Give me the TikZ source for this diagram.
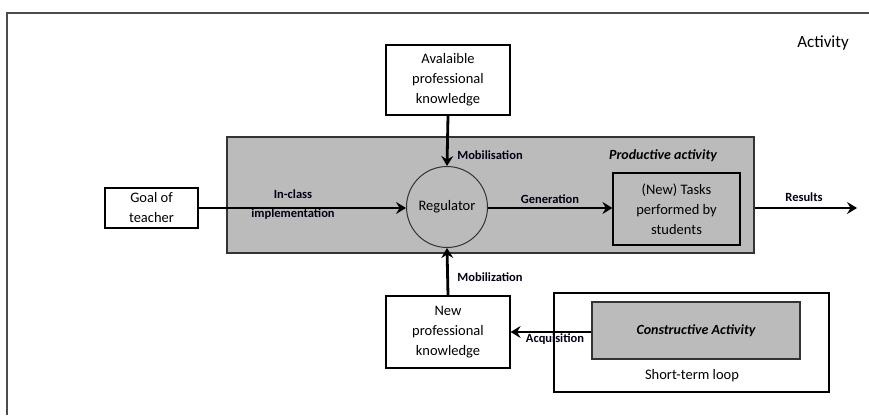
\documentclass[tikz,border=0pt]{standalone}
\usepackage{fontspec}
\setmainfont{Carlito}
\usetikzlibrary{arrows.meta}
\tikzset{
  box/.style={draw=black, line width=1.2pt, fill=white, align=center, inner sep=0pt, font=\fontsize{14.5}{20}\selectfont},
  graybox/.style={draw=black!80, line width=1.2pt, fill=gray!50!white!98!black, inner sep=0pt},
  lbl/.style={font=\fontsize{12.5}{19}\selectfont\bfseries, text=black!92!blue, align=center, inner sep=0pt},
  flow/.style={line width=2.8pt, -{Stealth[length=10pt,width=12pt,inset=3.5pt]}},
  frame/.style={draw=black!70, line width=1.8pt}
}
\begin{document}
\begin{tikzpicture}[x=1pt,y=-1pt]
\useasboundingbox (0,0) rectangle (869,417);
\fill[white] (0,0) rectangle (869,417);
% outer frame (only top and left visible)
\coordinate (fa) at (7,415);
\coordinate (fb) at (7,13);
\coordinate (fc) at (869,13);
\draw[frame] (fa) -- (fb) -- (fc);
\node[font=\fontsize{17}{20}\selectfont, inner sep=0pt] (activity) at (823,43) {Activity};

% productive activity gray area
\node[graybox, minimum width=527pt, minimum height=116pt] (prod) at (490.5,195) {};
\node[font=\fontsize{14}{16}\selectfont\bfseries\itshape, inner sep=0pt] (prodlbl) at (663,156) {Productive activity};

% nodes
\node[box, minimum width=124pt, minimum height=70pt] (avail) at (448,80) {Avalaible\\professional\\knowledge};
\node[box, minimum width=93pt, minimum height=40pt] (goal) at (151.5,208) {Goal of\\teacher};
\node[circle, draw=black!80, line width=1pt, fill=gray!50!white!98!black, minimum size=81pt, inner sep=0pt, font=\fontsize{14.5}{17}\selectfont] (reg) at (447,207) {Regulator};
\node[box, fill=gray!50!white!98!black, minimum width=127pt, minimum height=72pt] (tasks) at (676.5,209) {(New) Tasks\\performed by\\students};
\node[box, minimum width=124pt, minimum height=72pt] (newk) at (448,332) {New\\professional\\knowledge};
\node[box, minimum width=275pt, minimum height=99pt] (loop) at (691.5,342.5) {};
\node[graybox, line width=1.4pt, minimum width=208pt, minimum height=57pt, font=\fontsize{14}{16}\selectfont\bfseries\itshape] (cons) at (696,330.5) {Constructive Activity};
\node[font=\fontsize{14.5}{17}\selectfont, inner sep=0pt] (looplbl) at (692,376) {Short-term loop};
\coordinate (res) at (857,208);

% connectors
\draw[flow] (avail.south) -- (reg.north);
\draw[flow] (goal.east) -- (goal.east -| reg.west);
\draw[flow] (reg.east |- goal.east) -- (tasks.west |- goal.east);
\draw[flow] (prod.east |- res) -- (res);
\draw[flow] (newk.north) -- (reg.south);
\draw[flow] (cons.west |- newk.east) -- (newk.east);

% labels
\node[lbl] (l1) at (490,155) {Mobilisation};
\node[lbl] (l2) at (293,205) {In-class\\implementation};
\node[lbl] (l3) at (550,199) {Generation};
\node[lbl] (l4) at (804,197) {Results};
\node[lbl] (l5) at (490,277) {Mobilization};
\node[lbl] (l6) at (555,339) {Acquisition};
\end{tikzpicture}
\end{document}
